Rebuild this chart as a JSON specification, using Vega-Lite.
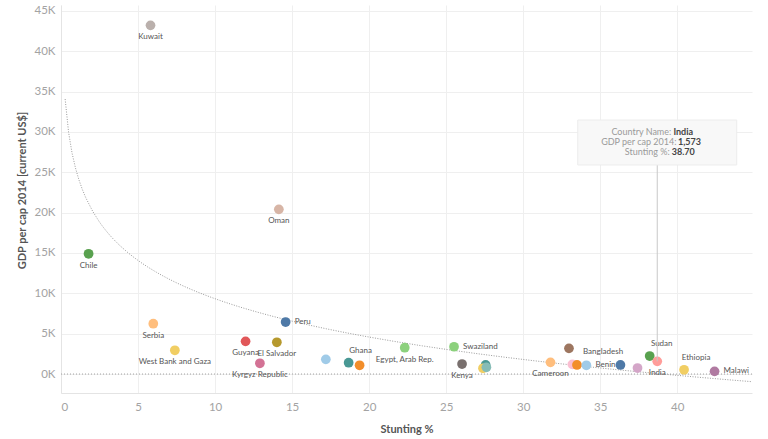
{
  "$schema": "https://vega.github.io/schema/vega-lite/v6.json",
  "width": 691,
  "height": 388,
  "autosize": {"type": "none"},
  "padding": {"left": 61, "top": 5, "right": 16, "bottom": 46},
  "background": "white",
  "config": {
    "view": {"stroke": null},
    "font": "Lato",
    "axis": {
      "grid": true,
      "gridColor": "#efefef",
      "domain": true,
      "domainColor": "#e4e4e4",
      "ticks": false,
      "labelColor": "#a3a3a3",
      "labelFontSize": 11.5,
      "titleColor": "#555555",
      "titleFontSize": 11,
      "titleFontWeight": "bold"
    }
  },
  "datasets": {
    "pts": [
      {"country": "Kuwait", "stunting": 5.81, "gdp": 43200},
      {"country": "Oman", "stunting": 14.14, "gdp": 20400},
      {"country": "Chile", "stunting": 1.79, "gdp": 14900},
      {"country": "Serbia", "stunting": 5.99, "gdp": 6230},
      {"country": "West Bank and Gaza", "stunting": 7.39, "gdp": 2940},
      {"country": "Guyana", "stunting": 11.98, "gdp": 4050},
      {"country": "Kyrgyz Republic", "stunting": 12.91, "gdp": 1330},
      {"country": "El Salvador", "stunting": 14.01, "gdp": 3930},
      {"country": "Peru", "stunting": 14.58, "gdp": 6440},
      {"country": "Senegal", "stunting": 17.19, "gdp": 1820},
      {"country": "Ghana", "stunting": 18.67, "gdp": 1400},
      {"country": "Gambia, The", "stunting": 19.38, "gdp": 1080},
      {"country": "Egypt, Arab Rep.", "stunting": 22.31, "gdp": 3260},
      {"country": "Swaziland", "stunting": 25.51, "gdp": 3380},
      {"country": "Kenya", "stunting": 26.03, "gdp": 1240},
      {"country": "Togo", "stunting": 27.56, "gdp": 1120},
      {"country": "Uganda", "stunting": 27.39, "gdp": 710},
      {"country": "Tanzania", "stunting": 27.61, "gdp": 830},
      {"country": "Cameroon", "stunting": 31.77, "gdp": 1450},
      {"country": "Bangladesh", "stunting": 32.97, "gdp": 3180},
      {"country": "Myanmar", "stunting": 33.19, "gdp": 1200},
      {"country": "Burkina Faso", "stunting": 33.49, "gdp": 1120},
      {"country": "Benin", "stunting": 34.1, "gdp": 1080},
      {"country": "Cambodia", "stunting": 36.31, "gdp": 1120},
      {"country": "Nepal", "stunting": 37.42, "gdp": 740},
      {"country": "Sudan", "stunting": 38.21, "gdp": 2230},
      {"country": "India", "stunting": 38.7, "gdp": 1573},
      {"country": "Ethiopia", "stunting": 40.44, "gdp": 530},
      {"country": "Malawi", "stunting": 42.42, "gdp": 330}
    ]
  },
  "layer": [
    {
      "data": {"name": "pts"},
      "transform": [
        {"regression": "gdp", "on": "stunting", "method": "log", "extent": [0.27, 44.85]}
      ],
      "mark": {"type": "line", "color": "#9a9a9a", "strokeWidth": 1, "strokeDash": [1, 1.5], "clip": true},
      "encoding": {
        "x": {"field": "stunting", "type": "quantitative", "scale": {"domain": [0, 44.85], "nice": false, "zero": false}},
        "y": {"field": "gdp", "type": "quantitative", "scale": {"domain": [-2350, 45720], "nice": false, "zero": false}}
      }
    },
    {
      "data": {"values": [{}]},
      "mark": {"type": "rule", "color": "#a0a0a0", "strokeWidth": 1, "strokeDash": [1, 2]},
      "encoding": {"y": {"datum": 0}}
    },
    {
      "data": {"name": "pts"},
      "mark": {"type": "circle", "size": 95, "opacity": 1},
      "encoding": {
        "x": {
          "field": "stunting", "type": "quantitative",
          "scale": {"domain": [0, 44.85], "nice": false, "zero": false},
          "axis": {"title": "Stunting %", "values": [0, 5, 10, 15, 20, 25, 30, 35, 40], "labelPadding": 8, "labelFlush": true, "titlePadding": 11}
        },
        "y": {
          "field": "gdp", "type": "quantitative",
          "scale": {"domain": [-2350, 45720], "nice": false, "zero": false},
          "axis": {
            "title": "GDP per cap 2014 [current US$]",
            "values": [0, 5000, 10000, 15000, 20000, 25000, 30000, 35000, 40000, 45000],
            "labelExpr": "(datum.value / 1000) + 'K'",
            "labelPadding": 6,
            "titleX": -39, "titleY": 185, "titleAngle": -90, "titleAlign": "center", "titleBaseline": "middle"
          }
        },
        "color": {
          "field": "country", "type": "nominal", "legend": null,
          "scale": {
            "domain": ["Kuwait", "Oman", "Chile", "Serbia", "West Bank and Gaza", "Guyana", "Kyrgyz Republic", "El Salvador", "Peru", "Senegal", "Ghana", "Gambia, The", "Egypt, Arab Rep.", "Swaziland", "Kenya", "Togo", "Uganda", "Tanzania", "Cameroon", "Bangladesh", "Myanmar", "Burkina Faso", "Benin", "Cambodia", "Nepal", "Sudan", "India", "Ethiopia", "Malawi"],
            "range": ["#bab0ac", "#d7b5a6", "#59a14f", "#ffbe7d", "#f1ce63", "#e15759", "#d37295", "#b6992d", "#4e79a7", "#a0cbe8", "#499894", "#f28e2b", "#8cd17d", "#8cd17d", "#79706e", "#499894", "#f1ce63", "#86bcb6", "#ffbe7d", "#9d7660", "#fabfd2", "#f28e2b", "#a0cbe8", "#4e79a7", "#d4a6c8", "#59a14f", "#ff9d9a", "#f1ce63", "#b07aa1"]
          }
        }
      }
    },
    {
      "data": {"name": "pts"},
      "transform": [{"filter": {"field": "country", "oneOf": ["Kuwait", "Oman", "Chile", "Serbia", "West Bank and Gaza", "Guyana", "Kyrgyz Republic", "El Salvador", "Egypt, Arab Rep.", "Kenya", "Cameroon", "India"]}}],
      "mark": {"type": "text", "align": "center", "baseline": "middle", "dy": 12, "fontSize": 8, "color": "#555555"},
      "encoding": {
        "x": {"field": "stunting", "type": "quantitative"},
        "y": {"field": "gdp", "type": "quantitative"},
        "text": {"field": "country"}
      }
    },
    {
      "data": {"name": "pts"},
      "transform": [{"filter": {"field": "country", "oneOf": ["Peru", "Swaziland", "Benin", "Malawi"]}}],
      "mark": {"type": "text", "align": "left", "baseline": "middle", "dx": 9, "fontSize": 8, "color": "#555555"},
      "encoding": {
        "x": {"field": "stunting", "type": "quantitative"},
        "y": {"field": "gdp", "type": "quantitative"},
        "text": {"field": "country"}
      }
    },
    {
      "data": {"name": "pts"},
      "transform": [{"filter": {"field": "country", "oneOf": ["Bangladesh"]}}],
      "mark": {"type": "text", "align": "left", "baseline": "middle", "dx": 14, "dy": 4, "fontSize": 8, "color": "#555555"},
      "encoding": {
        "x": {"field": "stunting", "type": "quantitative"},
        "y": {"field": "gdp", "type": "quantitative"},
        "text": {"field": "country"}
      }
    },
    {
      "data": {"name": "pts"},
      "transform": [{"filter": {"field": "country", "oneOf": ["Ghana", "Sudan", "Ethiopia"]}}],
      "mark": {"type": "text", "align": "center", "baseline": "middle", "dx": 12, "dy": -12, "fontSize": 8, "color": "#555555"},
      "encoding": {
        "x": {"field": "stunting", "type": "quantitative"},
        "y": {"field": "gdp", "type": "quantitative"},
        "text": {"field": "country"}
      }
    },
    {
      "data": {"values": [{}]},
      "mark": {"type": "rule", "color": "#c8c8c8", "strokeWidth": 1},
      "encoding": {"x": {"datum": 38.7}, "y": {"datum": 25900}, "y2": {"datum": 1573}}
    },
    {
      "data": {"values": [{}]},
      "mark": {"type": "rect", "fill": "#f8f8f8", "stroke": "#ececec", "strokeWidth": 1},
      "encoding": {"x": {"datum": 33.54}, "x2": {"datum": 43.86}, "y": {"datum": 31470}, "y2": {"datum": 25900}}
    },
    {
      "data": {"values": [{}]},
      "mark": {"type": "text", "text": "Country Name:", "align": "right", "baseline": "middle", "fontSize": 9, "color": "#9a9a9a"},
      "encoding": {"x": {"datum": 39.61}, "y": {"datum": 29950}}
    },
    {
      "data": {"values": [{}]},
      "mark": {"type": "text", "text": "India", "align": "left", "baseline": "middle", "fontSize": 9, "fontWeight": "bold", "color": "#444444"},
      "encoding": {"x": {"datum": 39.75}, "y": {"datum": 29950}}
    },
    {
      "data": {"values": [{}]},
      "mark": {"type": "text", "text": "GDP per cap 2014:", "align": "right", "baseline": "middle", "fontSize": 9, "color": "#9a9a9a"},
      "encoding": {"x": {"datum": 39.95}, "y": {"datum": 28710}}
    },
    {
      "data": {"values": [{}]},
      "mark": {"type": "text", "text": "1,573", "align": "left", "baseline": "middle", "fontSize": 9, "fontWeight": "bold", "color": "#444444"},
      "encoding": {"x": {"datum": 40.05}, "y": {"datum": 28710}}
    },
    {
      "data": {"values": [{}]},
      "mark": {"type": "text", "text": "Stunting %:", "align": "right", "baseline": "middle", "fontSize": 9, "color": "#9a9a9a"},
      "encoding": {"x": {"datum": 39.51}, "y": {"datum": 27470}}
    },
    {
      "data": {"values": [{}]},
      "mark": {"type": "text", "text": "38.70", "align": "left", "baseline": "middle", "fontSize": 9, "fontWeight": "bold", "color": "#444444"},
      "encoding": {"x": {"datum": 39.64}, "y": {"datum": 27470}}
    }
  ]
}
